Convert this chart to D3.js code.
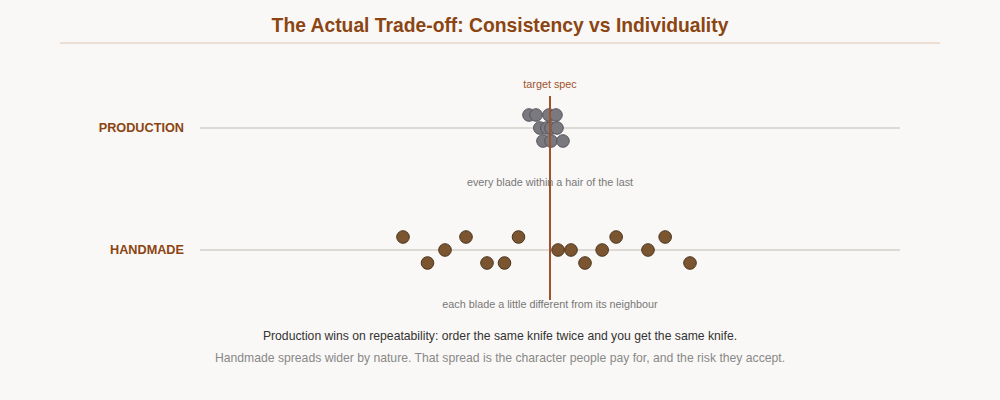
<!DOCTYPE html>
<html>
<head>
<meta charset="utf-8">
<script src="https://cdn.jsdelivr.net/npm/d3@7"></script>
<style>
  body { margin: 0; background: #faf8f6; }
  svg { display: block; font-family: "Liberation Sans", Arial, sans-serif; }
</style>
</head>
<body>
<div class="chart"></div>
<script>
const width = 1000;
const height = 400;

// deviation from target spec (arbitrary units, 0 = on spec)
// order matters: blades are laid out in 3 lanes, i % 3 -> top / middle / bottom
const rows = ["PRODUCTION", "HANDMADE"];
const productionDev = [-0.06, -0.029, -0.02, -0.04, -0.009, 0.003, -0.003, 0.003, 0.037, 0.017, 0.02];
const handmadeDev = [-0.42, -0.3, -0.35, -0.24, 0.023, -0.18, -0.09, 0.06, -0.13, 0.189, 0.149, 0.1, 0.329, 0.28, 0.4];
const notes = ["every blade within a hair of the last", "each blade a little different from its neighbour"];
const footLines = [
    "Production wins on repeatability: order the same knife twice and you get the same knife.",
    "Handmade spreads wider by nature. That spread is the character people pay for, and the risk they accept."
];

let svg = d3
    .select(".chart")
    .append("svg")
    .attr("width", width)
    .attr("height", height);

svg.append("rect")
    .attr("width", width)
    .attr("height", height)
    .attr("fill", "#faf8f6");

// title
svg.append("text")
    .text("The Actual Trade-off: Consistency vs Individuality")
    .attr("x", width / 2)
    .attr("y", 32)
    .attr("text-anchor", "middle")
    .attr("font-size", 19.3)
    .attr("font-weight", "bold")
    .attr("fill", "#8b4513");
svg.append("line")
    .attr("x1", 60).attr("x2", 940)
    .attr("y1", 43).attr("y2", 43)
    .attr("stroke", "#e8d6c6")
    .attr("stroke-width", 1.5);

let xScale = d3.scaleLinear().domain([-1, 1]).range([200, 900]);
let yScale = d3.scalePoint().domain(rows).range([128, 250]);
const laneGap = 13;
const laneOffset = (i) => [-1, 0, 1][i % 3] * laneGap;

// row baselines + labels
let rowG = svg.append("g")
    .selectAll("g")
    .data(rows)
    .enter()
    .append("g");
rowG.append("line")
    .attr("x1", xScale.range()[0])
    .attr("x2", xScale.range()[1])
    .attr("y1", (d) => yScale(d))
    .attr("y2", (d) => yScale(d))
    .attr("stroke", "#dddad6")
    .attr("stroke-width", 2);
rowG.append("text")
    .text((d) => d)
    .attr("x", 184)
    .attr("y", (d) => yScale(d))
    .attr("dy", "0.35em")
    .attr("text-anchor", "end")
    .attr("font-size", 12.7)
    .attr("font-weight", "bold")
    .attr("fill", "#8b4513");

// production dots
svg.append("g")
    .selectAll("circle")
    .data(productionDev)
    .enter()
    .append("circle")
    .attr("cx", (d) => xScale(d))
    .attr("cy", (d, i) => yScale("PRODUCTION") + laneOffset(i))
    .attr("r", 6.3)
    .attr("fill", "#7a7980")
    .attr("stroke", "#54545a")
    .attr("stroke-width", 1);

// handmade dots
svg.append("g")
    .selectAll("circle")
    .data(handmadeDev)
    .enter()
    .append("circle")
    .attr("cx", (d) => xScale(d))
    .attr("cy", (d, i) => yScale("HANDMADE") + laneOffset(i))
    .attr("r", 6.3)
    .attr("fill", "#7b5530")
    .attr("stroke", "#4a3520")
    .attr("stroke-width", 1);

// target spec line
svg.append("line")
    .attr("x1", xScale(0)).attr("x2", xScale(0))
    .attr("y1", 96).attr("y2", 300)
    .attr("stroke", "#a0522d")
    .attr("stroke-width", 2);
svg.append("text")
    .text("target spec")
    .attr("x", xScale(0))
    .attr("y", 88)
    .attr("text-anchor", "middle")
    .attr("font-size", 10.8)
    .attr("fill", "#a0522d");

// row annotations
svg.append("g")
    .selectAll("text")
    .data(notes)
    .enter()
    .append("text")
    .text((d) => d)
    .attr("x", xScale(0))
    .attr("y", (d, i) => yScale(rows[i]) + 58)
    .attr("text-anchor", "middle")
    .attr("font-size", 10.8)
    .attr("fill", "#777");

// footer
svg.append("text")
    .text(footLines[0])
    .attr("x", width / 2)
    .attr("y", 340)
    .attr("text-anchor", "middle")
    .attr("font-size", 12.2)
    .attr("fill", "#333");
svg.append("text")
    .text(footLines[1])
    .attr("x", width / 2)
    .attr("y", 362)
    .attr("text-anchor", "middle")
    .attr("font-size", 12.2)
    .attr("fill", "#888");
</script>
</body>
</html>
